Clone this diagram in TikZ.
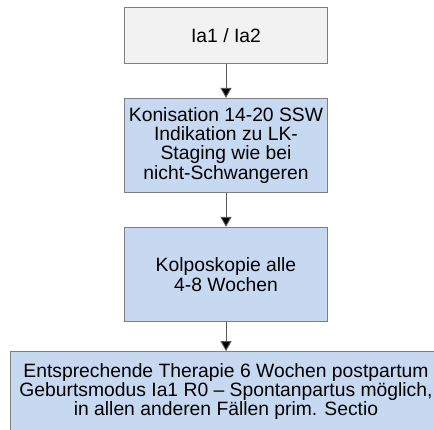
\documentclass[tikz,border=0pt]{standalone}
\usepackage{fontspec}
\setmainfont{Liberation Sans}
\usetikzlibrary{arrows.meta}
\definecolor{boxgray}{HTML}{F2F2F2}
\definecolor{boxblue}{HTML}{C6D9F1}
\definecolor{edgegray}{HTML}{7F7F7F}
\tikzset{
	flowbox/.style={draw=edgegray, line width=0.8pt, align=center, inner sep=2pt,
		font=\fontsize{19.3}{19.3}\selectfont},
	flowarrow/.style={draw=black!65, line width=0.9pt, -{Triangle[width=11pt,length=10pt,fill=black]}}
}
\begin{document}
\begin{tikzpicture}[x=1pt,y=-1pt]
	\useasboundingbox (0,0) rectangle (434,429);
	\clip (0,0) rectangle (434,429);
	\node[flowbox, fill=boxgray, minimum width=203pt, minimum height=56pt] (stage) at (226,35.5) {Ia1 / Ia2};
	\node[flowbox, fill=boxblue, minimum width=203pt, minimum height=94pt] (konisation) at (226,145.3)
		{Konisation 14-20 SSW\\Indikation zu LK-\\Staging wie bei\\nicht-Schwangeren};
	\node[flowbox, fill=boxblue, minimum width=203pt, minimum height=94.5pt] (kolposkopie) at (226,274.5)
		{Kolposkopie alle\\4-8 Wochen};
	\node[flowbox, fill=boxblue, minimum width=432pt, minimum height=80pt] (therapie) at (226,391.5)
		{Entsprechende Therapie 6 Wochen postpartum\\Geburtsmodus Ia1 R0 -- Spontanpartus möglich,\\in allen anderen Fällen prim. Sectio};
	% Verbindungen
	\draw[flowarrow] (stage) -- (konisation);
	\draw[flowarrow] (konisation) -- (kolposkopie);
	\draw[flowarrow] (kolposkopie) -- (therapie);
\end{tikzpicture}
\end{document}
